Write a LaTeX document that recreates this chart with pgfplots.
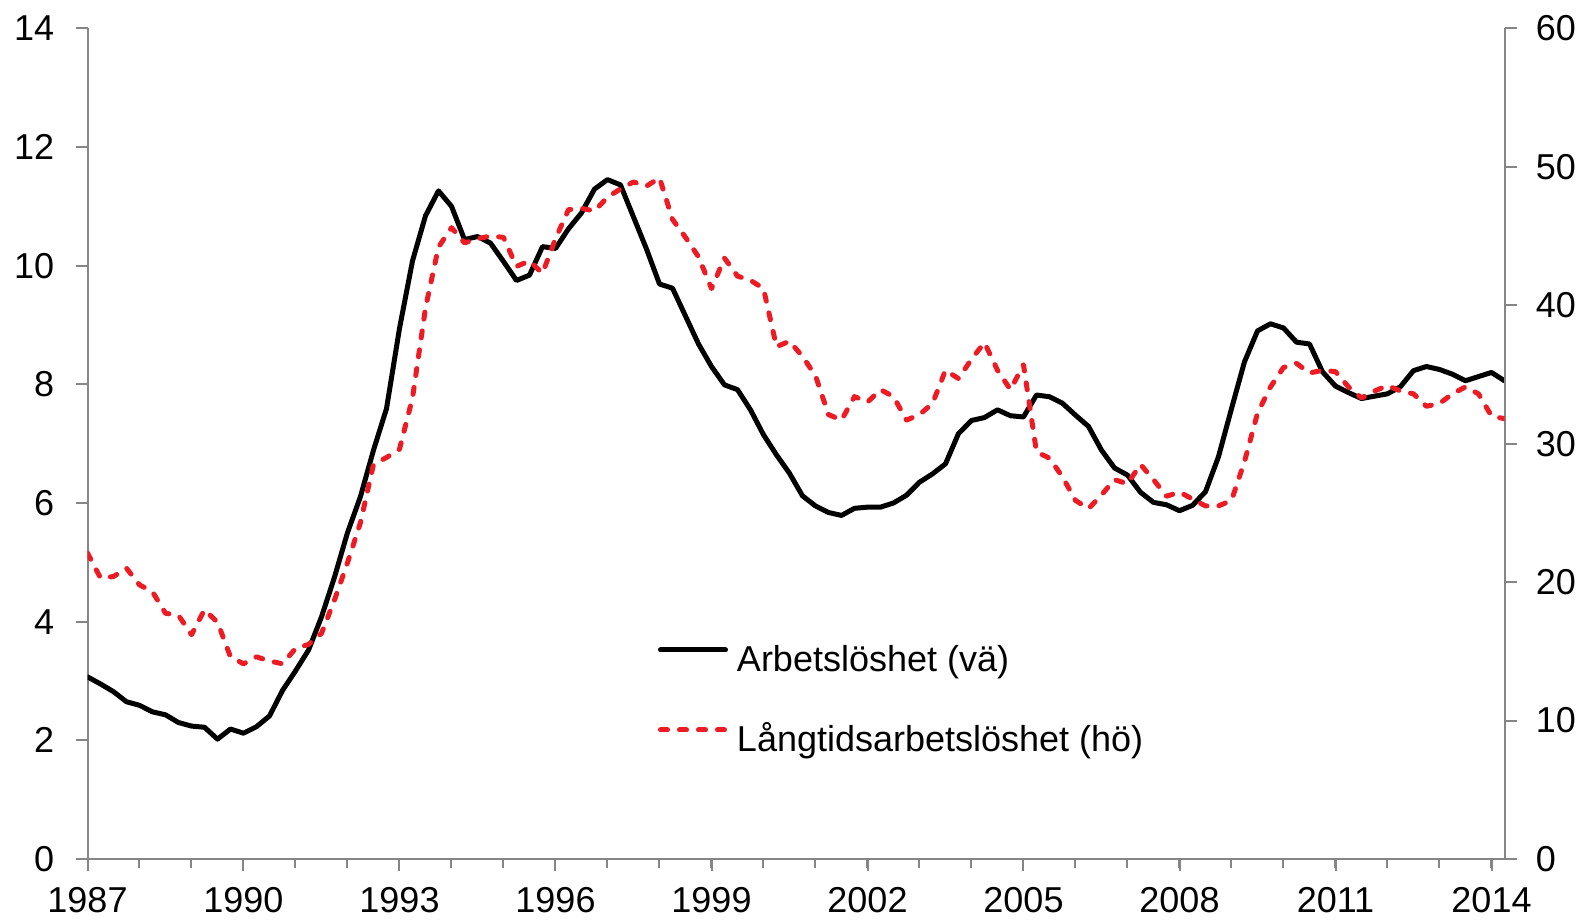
\documentclass[border=0pt]{standalone}
\usepackage{fontspec}
\setmainfont{Liberation Sans}
\usepackage{pgfplots}
\usepackage{pgfplotstable}
\pgfplotsset{compat=1.18}
\definecolor{axisgray}{RGB}{134,134,134}
\definecolor{lred}{RGB}{237,28,36}
\newcommand\chartfont{\fontsize{18bp}{21.6bp}\selectfont}

% i = quarter index from 1987Q1; u = unemployment (left axis); lt = long-term unemployment share (right axis)
\pgfplotstableread{
i u lt
0 3.07 22.1
1 2.95 20.3
2 2.82 20.4
3 2.65 21.0
4 2.59 19.8
5 2.48 19.3
6 2.43 17.75
7 2.30 17.6
8 2.24 16.2
9 2.22 18.0
10 2.02 17.1
11 2.19 14.6
12 2.12 14.1
13 2.23 14.6
14 2.41 14.3
15 2.84 14.1
16 3.17 15.2
17 3.52 15.5
18 4.08 16.3
19 4.75 18.7
20 5.50 21.4
21 6.11 24.3
22 6.89 28.5
23 7.59 29.0
24 8.94 29.6
25 10.08 33.3
26 10.84 39.8
27 11.26 44.2
28 11.00 45.6
29 10.44 44.5
30 10.49 44.8
31 10.38 45.0
32 10.07 44.9
33 9.75 42.8
34 9.84 43.2
35 10.32 42.3
36 10.29 44.8
37 10.62 46.9
38 10.89 47.0
39 11.29 46.8
40 11.45 47.8
41 11.36 48.4
42 10.82 48.9
43 10.28 48.6
44 9.69 49.2
45 9.62 46.2
46 9.15 44.9
47 8.68 43.5
48 8.30 41.2
49 7.99 43.4
50 7.91 42.1
51 7.57 41.8
52 7.15 41.2
53 6.81 37.0
54 6.50 37.4
55 6.12 36.3
56 5.95 34.9
57 5.84 32.1
58 5.79 31.7
59 5.91 33.4
60 5.93 33.0
61 5.93 33.9
62 6.00 33.4
63 6.13 31.7
64 6.35 32.1
65 6.49 32.9
66 6.66 35.3
67 7.17 34.7
68 7.39 36.1
69 7.44 37.3
70 7.57 35.3
71 7.47 33.9
72 7.45 35.7
73 7.82 29.4
74 7.79 28.95
75 7.68 27.6
76 7.48 25.9
77 7.29 25.3
78 6.89 26.3
79 6.59 27.4
80 6.47 27.1
81 6.18 28.5
82 6.01 27.4
83 5.97 26.2
84 5.87 26.5
85 5.96 26.0
86 6.19 25.5
87 6.78 25.5
88 7.59 25.9
89 8.38 28.7
90 8.90 32.2
91 9.02 34.1
92 8.95 35.5
93 8.71 35.8
94 8.68 35.1
95 8.21 35.3
96 7.97 35.2
97 7.86 34.1
98 7.76 33.3
99 7.80 33.8
100 7.84 34.2
101 7.96 33.8
102 8.23 33.6
103 8.30 32.7
104 8.25 32.9
105 8.17 33.6
106 8.06 34.1
107 8.13 33.6
108 8.20 32.0
109 8.06 31.8
}\data

\pgfplotsset{
  common/.style={
    scale only axis, width=708.5bp, height=415.35bp,
    xmin=1987, xmax=2014.25,
    axis line style={-, draw=axisgray, line width=1bp},
    tick align=outside, major tick length=6bp, minor tick length=4.3bp,
    major tick style={axisgray, line width=1bp},
    minor tick style={axisgray, line width=1bp},
    tick label style={font=\chartfont, /pgf/number format/assume math mode=true},
  }
}

\begin{document}
\begin{tikzpicture}
\path[use as bounding box] (-43.75bp,-30.5bp) rectangle (748.25bp,429.5bp);
\begin{axis}[common, name=ax,
  ymin=0, ymax=14,
  axis x line*=bottom, axis y line*=left,
  xtick={1987,1990,...,2014},
  xticklabels={1987,1990,1993,1996,1999,2002,2005,2008,2011,2014},
  minor xtick={1987,...,2014},
  ytick={0,2,...,14},
  yticklabel style={anchor=east, inner sep=0pt, xshift=-10.5bp},
  xticklabel style={anchor=north, inner sep=0pt, yshift=-8bp},
  legend style={at={(0.4026,0.2568)}, anchor=north west, draw=none, fill=none,
    inner sep=0pt, outer sep=0pt, row sep=23bp, font=\chartfont,
    cells={anchor=west},
    nodes={inner sep=0pt, text height=13bp, text depth=4bp},
    /tikz/every odd column/.append style={column sep=4.5bp}},
  legend cell align=left,
  legend image code/.code={\draw[#1] (1.25bp,6.35bp) -- (33.75bp,6.35bp);},
]
\addplot[black, line width=2.5bp, line join=round, line cap=round]
  table[x expr=1987+\thisrow{i}/4, y=u] {\data};
\addlegendentry{Arbetslöshet (vä)}
\addlegendimage{lred, line width=2.5bp, dash pattern=on 3.5bp off 6bp, line cap=round}
\addlegendentry{Långtidsarbetslöshet (hö)}
\end{axis}
\begin{axis}[common,
  ymin=0, ymax=60,
  axis x line=none, axis y line*=right,
  ytick={0,10,...,60},
  yticklabel style={anchor=west, inner sep=0pt, xshift=9.5bp},
]
\addplot[lred, line width=2.5bp, line join=round, line cap=round, dash pattern=on 3.5bp off 6bp]
  table[x expr=1987+\thisrow{i}/4, y=lt] {\data};
\end{axis}
\end{tikzpicture}
\end{document}
